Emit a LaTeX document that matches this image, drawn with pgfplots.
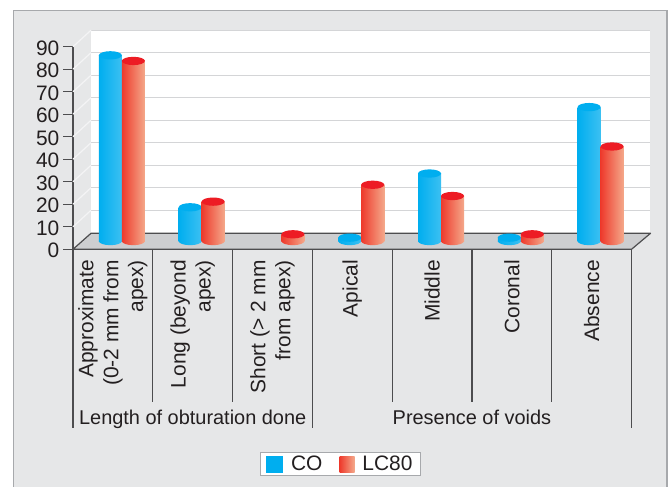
\documentclass[border=0pt]{standalone}
\usepackage{fontspec}
\setmainfont{Liberation Sans}
\usepackage{pgfplots}
\usepackage{pgfplotstable}
\pgfplotsset{compat=1.18}

\definecolor{bgG}{HTML}{E6E7E8}
\definecolor{frameG}{HTML}{A7A9AC}
\definecolor{floorG}{HTML}{CDCED0}
\definecolor{lineG}{HTML}{4D4D4F}
\definecolor{gridG}{HTML}{D4D5D7}
\definecolor{sideG}{HTML}{F4F4F5}
\definecolor{txt}{HTML}{231F20}
\definecolor{coB}{HTML}{00AEEF}
\definecolor{coB2}{HTML}{3CC0F2}
\definecolor{lcR}{HTML}{ED1C24}
\definecolor{lcR1}{HTML}{EE3A2C}
\definecolor{lcR2}{HTML}{F4A88A}

\pgfdeclareplotmark{cap}{%
  \pgfpathellipse{\pgfpointorigin}{\pgfqpoint{\pgfplotmarksize}{0pt}}{\pgfqpoint{0pt}{0.36\pgfplotmarksize}}%
  \pgfusepathqfill}

\pgfplotsset{
  cyl/.style n args={3}{forget plot, scatter, only marks, mark=cap, mark size=11.5bp, color=#3,
    restrict y to domain=0.1:100,
    visualization depends on={rawy \as \ry},
    scatter/@pre marker code/.code={%
      \shade[draw=none, left color=#1, right color=#2] (0bp,{-\ry*2.2511bp}) ellipse [x radius=11.5bp, y radius=4.14bp];
      \shade[draw=none, left color=#1, right color=#2] (-11.5bp,0bp) rectangle (11.5bp,{-\ry*2.2511bp});
    },
    scatter/@post marker code/.code={},
  },
}

\pgfplotstableread{
x   co    lc
0.5 82.5  80
1.5 15    17.5
2.5 0     3
3.5 1.5   25
4.5 30    20
5.5 1.5   3
6.5 59.5  42
}\datatable

\begin{document}
\begin{tikzpicture}[x=1bp,y=1bp]
\useasboundingbox (0,0) rectangle (671,487);
\fill[white] (0,0) rectangle (671,487);
\fill[bgG] (13.5,-2) rectangle (667,476.5);
\draw[frameG, line width=1.8bp] (13.5,-2) -- (13.5,476.5) -- (667,476.5) -- (667,-2);

\begin{axis}[
  at={(73bp,237.7bp)}, anchor=south west,
  scale only axis, width=558.5bp, height=202.6bp,
  xmin=0, xmax=7, ymin=0, ymax=90,
  clip=false,
  axis lines*=left,
  x axis line style={draw=none},
  y axis line style={lineG, line width=1.2bp},
  xtick={0.5,1.5,...,6.5},
  xticklabels={{Approximate\\(0-2 mm from\\apex)},{Long (beyond\\apex)},{Short (> 2 mm\\from apex)},Apical,Middle,Coronal,Absence},
  xtick style={draw=none},
  xticklabel style={rotate=90, anchor=east, align=right, font=\fontsize{21}{25}\selectfont, text=txt, inner xsep=0.7bp, inner ysep=0pt},
  ytick={0,10,...,90},
  ytick style={lineG, line width=1.2bp},
  tick align=outside,
  major tick length=10bp,
  yticklabel style={font=\fontsize{21}{21}\selectfont, text=txt, inner xsep=3.5bp, yshift=-1.5bp},
  /pgf/number format/assume math mode=true,
  legend style={at={(0.4789,-1.0617)}, anchor=center, draw=frameG, line width=1bp, fill=white,
    font=\fontsize{21}{21}\selectfont, text=txt, inner xsep=6bp, inner ysep=1.5bp,
    /tikz/every odd column/.append style={column sep=6bp},
    /tikz/every even column/.append style={column sep=15bp}},
  legend columns=2,
  legend cell align=left,
]
% floor and walls
\fill[white] ([shift={(18bp,16.5bp)}]axis cs:0,0) rectangle ([shift={(18bp,16.5bp)}]axis cs:7,90);
\pgfplotsinvokeforeach{10,20,30,40,50,60,70,80,90}{
  \draw[gridG, line width=1.2bp] ([shift={(18bp,16.5bp)}]axis cs:0,#1) -- ([shift={(18bp,16.5bp)}]axis cs:7,#1);
  \draw[sideG, line width=1.2bp] (axis cs:0,#1) -- ([shift={(18bp,16.5bp)}]axis cs:0,#1);
}
\fill[floorG, draw=lineG, line width=1.2bp, line join=round] (axis cs:0,0) -- (axis cs:7,0) -- ([shift={(19bp,16bp)}]axis cs:7,0) -- ([shift={(18bp,16bp)}]axis cs:0,0) -- cycle;
\pgfplotsinvokeforeach{1,2,4,5,6}{
  \draw[lineG, line width=1.2bp] (axis cs:#1,0) -- ++(0,-152.4bp);
}
\pgfplotsinvokeforeach{0,3,7}{
  \draw[lineG, line width=1.2bp] (axis cs:#1,0) -- ++(0,-178.7bp);
}
\node[font=\fontsize{20}{20}\selectfont, text=txt, anchor=base] at ([yshift=-175.7bp]axis cs:1.5,0) {Length of obturation done};
\node[font=\fontsize{20}{20}\selectfont, text=txt, anchor=base] at ([yshift=-175.7bp]axis cs:5,0) {Presence of voids};

% CO cylinders
\addplot[cyl={coB}{coB2}{coB}, xshift=-2.5bp, yshift=8.25bp] table[x=x, y=co] {\datatable};
% LC80 cylinders
\addplot[cyl={lcR1}{lcR2}{lcR}, xshift=20.5bp, yshift=8.25bp] table[x=x, y=lc] {\datatable};

\addlegendimage{legend image code/.code={\fill[coB] (0bp,-7.8bp) rectangle (15.7bp,7.8bp);}}
\addlegendentry{CO}
\addlegendimage{legend image code/.code={\shade[draw=none, left color=lcR1, right color=lcR2] (0bp,-7.8bp) rectangle (15bp,7.8bp);}}
\addlegendentry{LC80}
\end{axis}
\end{tikzpicture}
\end{document}
